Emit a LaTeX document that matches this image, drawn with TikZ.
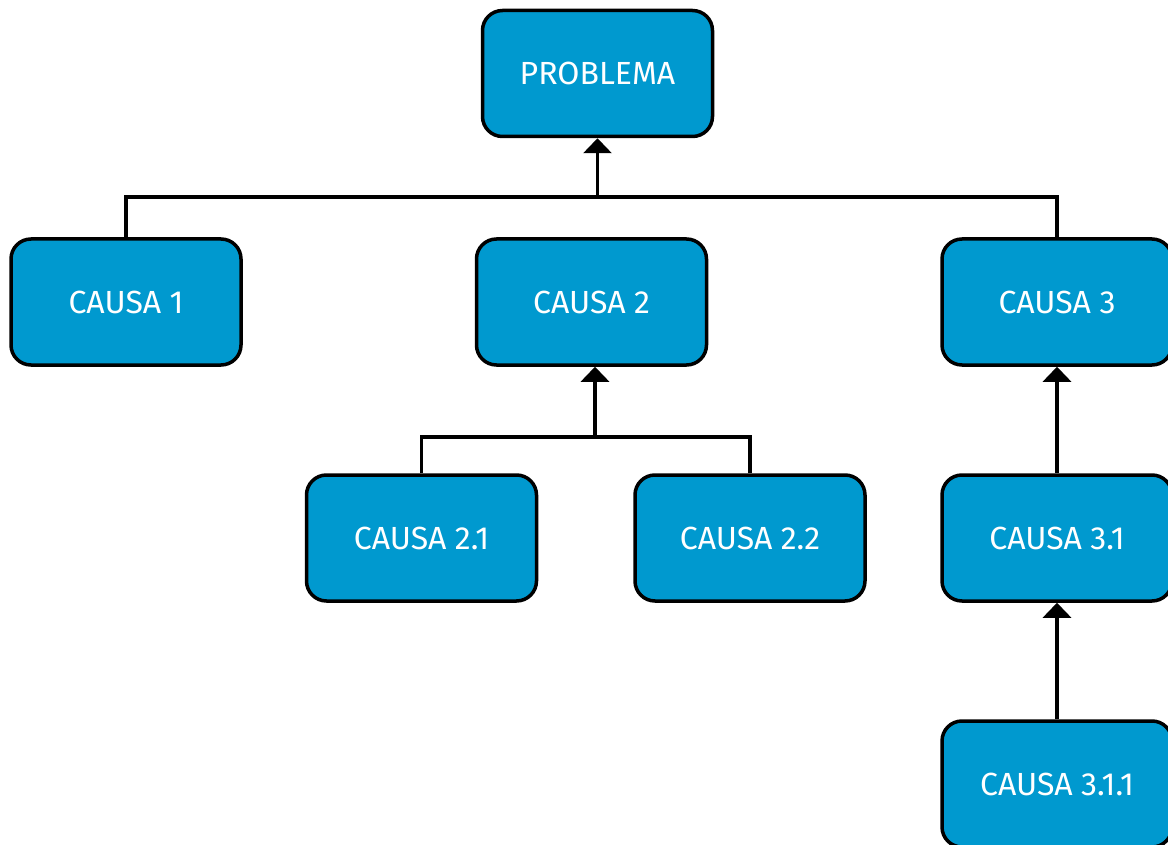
\documentclass[tikz,border=0pt]{standalone}
\usepackage{fontspec}
\setmainfont{Fira Sans}
\usetikzlibrary{arrows.meta}
\definecolor{boxblue}{HTML}{0099CF}
\begin{document}
\begin{tikzpicture}[x=1pt,y=-1pt,
  causebox/.style={draw=black,fill=boxblue,line width=3.5pt,rounded corners=20pt,
    minimum width=230pt,minimum height=126pt,inner sep=0pt,
    text=white,font=\fontsize{32}{38}\selectfont},
  link/.style={draw=black,line width=3.2pt},
  uparrow/.style={link,-{Triangle[width=28pt,length=15pt]}}]
\useasboundingbox (0,0) rectangle (1168,845);
\clip (0,0) rectangle (1168,845);
\node[causebox] (p) at (597.5,73.5) {PROBLEMA};
\node[causebox] (c1) at (126,302) {CAUSA 1};
\node[causebox] (c2) at (591.5,302) {CAUSA 2};
\node[causebox] (c3) at (1057,302) {CAUSA 3};
\node[causebox] (c21) at (421.5,538) {CAUSA 2.1};
\node[causebox] (c22) at (750,538) {CAUSA 2.2};
\node[causebox] (c31) at (1057,538) {CAUSA 3.1};
\node[causebox] (c311) at (1057,784) {CAUSA 3.1.1};
\coordinate (j1) at (597.5,197);
\coordinate (j2) at (595,437);
\draw[link] (c1.north) |- (j1);
\draw[link] (c3.north) |- (j1);
\draw[uparrow] (j1) -- (j1 |- p.south);
\draw[link] (c21.north) |- (j2);
\draw[link] (c22.north) |- (j2);
\draw[uparrow] (j2) -- (j2 |- c2.south);
\draw[uparrow] (c31.north) -- (c3.south);
\draw[uparrow] (c311.north) -- (c31.south);
\end{tikzpicture}
\end{document}
